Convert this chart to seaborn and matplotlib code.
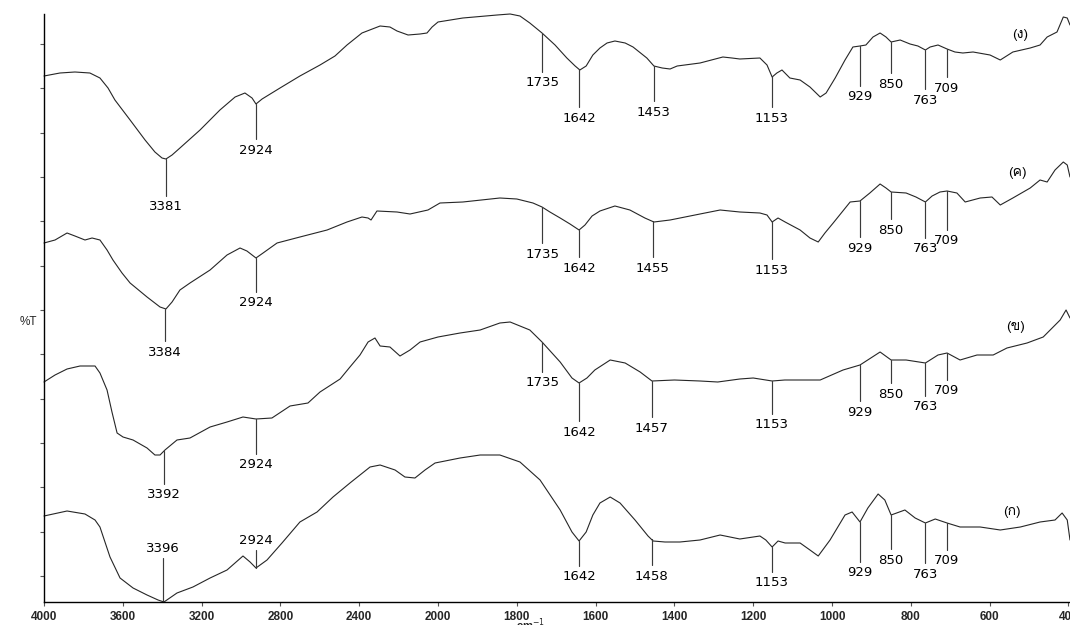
import numpy as np
import pandas as pd
import matplotlib
matplotlib.use("Agg")
import matplotlib.pyplot as plt
import seaborn as sns
from matplotlib import font_manager, ft2font

# ---------------- spectra (wavenumber in cm-1, stacked %T in arbitrary units) ----------------
wn_d = [4000, 3919, 3843, 3767, 3716, 3675, 3640, 3563, 3487, 3437,
        3401, 3381, 3350, 3310, 3208, 3107, 3030, 2980, 2944, 2924,
        2893, 2802, 2701, 2599, 2523, 2462, 2386, 2294, 2244, 2208,
        2152, 2091, 2056, 2030, 2000, 1937, 1850, 1817, 1792, 1767,
        1736, 1703, 1673, 1652, 1640, 1624, 1607, 1589, 1571, 1551,
        1525, 1505, 1470, 1452, 1431, 1411, 1393, 1335, 1277, 1254,
        1234, 1183, 1165, 1152, 1140, 1127, 1107, 1081, 1056, 1030,
        1015, 992, 967, 947, 929, 914, 896, 878, 863, 850,
        827, 802, 782, 763, 751, 731, 708, 688, 668, 642,
        599, 573, 541, 497, 472, 454, 429, 413, 403, 396]
t_d = [526, 529, 530, 529, 524, 514, 502, 482, 462, 450,
       444, 443, 447, 454, 472, 492, 505, 509, 504, 498,
       503, 514, 526, 537, 546, 557, 569, 576, 575, 571,
       567, 568, 569, 575, 580, 584, 587, 588, 586, 579,
       569, 557, 544, 536, 532, 536, 547, 554, 559, 561,
       559, 555, 544, 536, 534, 533, 536, 539, 545, 544,
       543, 544, 537, 525, 529, 532, 524, 522, 515, 505,
       509, 524, 542, 555, 556, 557, 565, 569, 565, 560,
       562, 558, 556, 552, 555, 557, 553, 550, 549, 550,
       547, 542, 550, 554, 557, 565, 570, 585, 584, 577]

wn_c = [4000, 3944, 3883, 3843, 3792, 3756, 3716, 3680, 3650, 3604,
        3563, 3477, 3411, 3381, 3350, 3310, 3259, 3157, 3071, 3005,
        2970, 2924, 2888, 2817, 2701, 2563, 2462, 2386, 2355, 2340,
        2310, 2208, 2142, 2051, 1995, 1937, 1843, 1800, 1759, 1736,
        1716, 1690, 1665, 1642, 1627, 1609, 1589, 1551, 1513, 1475,
        1452, 1411, 1335, 1284, 1234, 1183, 1165, 1152, 1137, 1119,
        1081, 1056, 1035, 1018, 997, 954, 929, 904, 878, 863,
        850, 812, 787, 763, 746, 726, 708, 683, 662, 624,
        594, 573, 541, 497, 472, 454, 434, 413, 403, 396]
t_c = [359, 362, 369, 366, 362, 364, 362, 352, 342, 329,
       319, 305, 295, 293, 300, 312, 319, 332, 347, 354,
       351, 344, 349, 359, 365, 372, 380, 385, 384, 382,
       391, 390, 388, 392, 399, 400, 404, 403, 399, 395,
       390, 384, 378, 372, 377, 386, 391, 396, 392, 384,
       380, 382, 388, 392, 390, 389, 387, 380, 384, 380,
       372, 364, 360, 369, 379, 400, 401, 409, 418, 414,
       410, 409, 405, 400, 406, 410, 411, 409, 400, 404,
       405, 397, 404, 414, 422, 420, 432, 440, 437, 425]

wn_b = [4000, 3944, 3883, 3817, 3741, 3716, 3680, 3655, 3629, 3599,
        3548, 3477, 3437, 3411, 3386, 3325, 3259, 3157, 3071, 2990,
        2924, 2843, 2751, 2660, 2599, 2497, 2447, 2396, 2355, 2320,
        2294, 2244, 2193, 2142, 2091, 2000, 1944, 1893, 1843, 1817,
        1767, 1736, 1690, 1660, 1642, 1622, 1602, 1563, 1525, 1487,
        1457, 1400, 1335, 1290, 1234, 1200, 1152, 1120, 1081, 1030,
        972, 929, 878, 850, 812, 763, 731, 708, 675, 632,
        591, 556, 505, 464, 421, 406, 396]
t_b = [220, 227, 233, 236, 236, 229, 212, 190, 169, 165,
       162, 154, 147, 147, 152, 162, 164, 175, 180, 185,
       183, 184, 196, 199, 210, 223, 235, 247, 260, 264,
       256, 255, 246, 252, 260, 265, 269, 272, 279, 280,
       272, 260, 240, 224, 219, 224, 232, 242, 239, 230,
       221, 222, 221, 220, 223, 224, 221, 222, 222, 222,
       232, 237, 250, 242, 242, 239, 247, 249, 242, 247,
       247, 254, 259, 265, 282, 292, 284]

wn_a = [4000, 3883, 3792, 3741, 3716, 3665, 3614, 3548, 3477, 3421,
        3391, 3325, 3244, 3157, 3071, 2990, 2954, 2924, 2868, 2792,
        2701, 2614, 2533, 2447, 2396, 2345, 2294, 2218, 2168, 2117,
        2066, 2015, 1944, 1893, 1843, 1792, 1741, 1690, 1660, 1642,
        1624, 1607, 1589, 1563, 1538, 1500, 1467, 1454, 1424, 1386,
        1335, 1284, 1234, 1183, 1168, 1152, 1137, 1119, 1081, 1056,
        1035, 1005, 967, 949, 929, 909, 883, 866, 850, 815,
        789, 763, 738, 708, 675, 624, 573, 522, 472, 434,
        416, 403, 396]
t_a = [86, 91, 88, 82, 75, 45, 24, 14, 7, 2,
       0, 9, 15, 24, 32, 46, 40, 34, 42, 59,
       80, 90, 105, 119, 127, 135, 137, 132, 125, 124,
       132, 139, 144, 147, 147, 140, 122, 92, 70, 61,
       70, 87, 99, 105, 99, 82, 66, 61, 60, 60,
       62, 67, 63, 66, 62, 55, 61, 59, 59, 52,
       46, 62, 87, 90, 80, 94, 108, 102, 87, 92,
       84, 79, 83, 79, 75, 75, 72, 75, 80, 82,
       89, 82, 62]

sample_names = ["(ก)", "(ข)", "(ค)", "(ง)"]

# labelled band positions (cm-1) for each sample
peaks_a = [3396, 2924, 1642, 1458, 1153, 929, 850, 763, 709]
peaks_b = [3392, 2924, 1735, 1642, 1457, 1153, 929, 850, 763, 709]
peaks_c = [3384, 2924, 1735, 1642, 1455, 1153, 929, 850, 763, 709]
peaks_d = [3381, 2924, 1735, 1642, 1453, 1153, 929, 850, 763, 709]

x_ticks = [4000, 3600, 3200, 2800, 2400, 2000, 1800, 1600, 1400, 1200, 1000, 800, 600, 400]

# ---------------- layout of the band labels (vertical placement) ----------------
label_y_a = [54, 62, 25, 26, 19, 29, 42, 28, 41]
label_y_b = [107, 137, 219, 170, 174, 177, 190, 208, 195, 211]
label_y_c = [250, 299, 348, 334, 334, 332, 354, 372, 353, 361]
label_y_d = [395, 452, 519, 484, 490, 484, 505, 518, 502, 514]
name_pos = [(543, 90), (535, 275), (530, 429), (523, 567)]


def thai_family():
    for f in font_manager.fontManager.ttflist:
        try:
            if 0x0E01 in ft2font.FT2Font(f.fname).get_charmap():
                return f.name
        except Exception:
            continue
    return "DejaVu Sans"


sns.set_style("ticks")
plt.rcParams["font.family"] = ["DejaVu Sans"]

fig = plt.figure(figsize=(10.70, 6.25), dpi=100)
ax = fig.add_axes([44 / 1070, 23 / 625, 1026 / 1070, 588 / 625])

# IR axis: region above 2000 cm-1 is shown at half the scale of the region below
def fwd(w):
    w = np.asarray(w, dtype=float)
    return np.where(w > 2000, 2000 + (w - 2000) / 2.0, w)


def inv(u):
    u = np.asarray(u, dtype=float)
    return np.where(u > 2000, 2000 + (u - 2000) * 2.0, u)


ax.set_xscale("function", functions=(fwd, inv))

traces = [(wn_a, t_a), (wn_b, t_b), (wn_c, t_c), (wn_d, t_d)]
frames = []
for name, (w, t) in zip(sample_names, traces):
    frames.append(pd.DataFrame({"wn": w, "T": t, "sample": name}))
df = pd.concat(frames, ignore_index=True)

sns.lineplot(data=df, x="wn", y="T", units="sample", estimator=None, sort=False,
             color="#262626", linewidth=0.8, ax=ax, legend=False, clip_on=False)

peak_sets = [(peaks_a, label_y_a), (peaks_b, label_y_b), (peaks_c, label_y_c), (peaks_d, label_y_d)]
for (w, t), (pk, ly) in zip(traces, peak_sets):
    w_arr = np.asarray(w, dtype=float)[::-1]
    t_arr = np.asarray(t, dtype=float)[::-1]
    for p, y in zip(pk, ly):
        yc = float(np.interp(p, w_arr, t_arr))
        if y < yc:
            end = y + 11
        else:
            end = y - 10
        ax.plot([p, p], [yc, end], color="#3a3a3a", linewidth=0.85, clip_on=False)
        ax.text(p, y, str(p), ha="center", va="center", fontsize=9.5,
                family="DejaVu Sans", color="black")

thai = thai_family()
for name, (xw, yv) in zip(sample_names, name_pos):
    ax.text(xw, yv, name, ha="center", va="center", fontsize=10,
            family=[thai, "DejaVu Sans"], color="black")

ax.set_xlim(4000, 396)
ax.set_ylim(0, 588)
ax.set_xticks(x_ticks)
ax.set_xticklabels([str(v) for v in x_ticks], fontsize=8.5, fontweight="bold",
                   family="Liberation Sans")
ax.set_yticks(np.arange(26, 580, 44.33))
ax.set_yticklabels([])
ax.tick_params(axis="both", direction="out", length=3, width=0.8, color="#555555", pad=3.5)

for s in ["top", "right"]:
    ax.spines[s].set_visible(False)
for s in ["left", "bottom"]:
    ax.spines[s].set_linewidth(1.0)
    ax.spines[s].set_color("black")

ax.set_ylabel("%T", rotation=0, fontsize=8.5, family="Liberation Sans", va="center", ha="center")
ax.yaxis.set_label_coords(-0.015, 0.476)
ax.set_xlabel(r"cm$^{-1}$", fontsize=8, fontweight="bold", family="Liberation Sans", va="top")
ax.xaxis.set_label_coords(0.474, -0.025)

fig.savefig("out.png", dpi=100)
